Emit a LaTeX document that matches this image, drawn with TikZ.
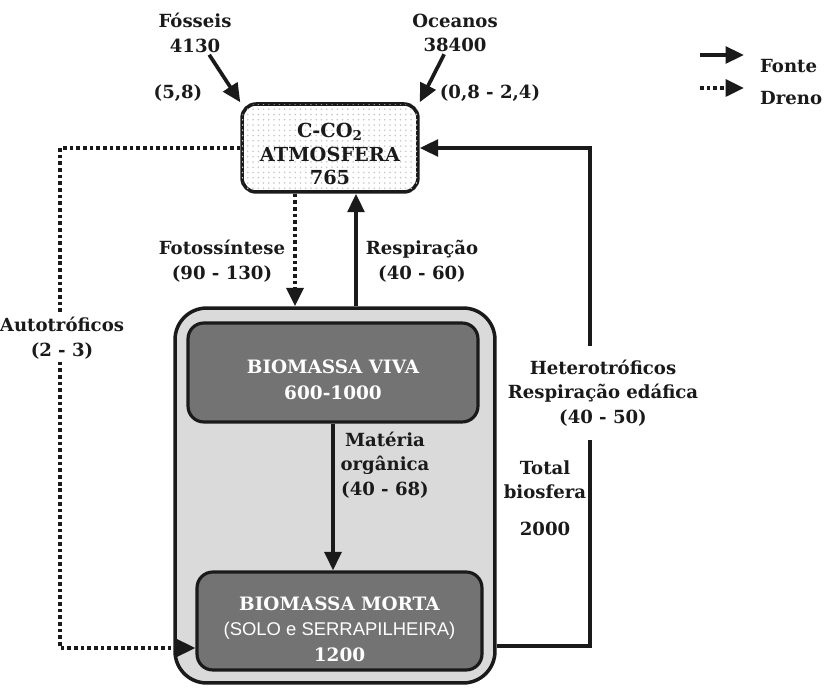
\documentclass[tikz,border=0pt]{standalone}
\usepackage{fontspec}
\setmainfont{DejaVu Serif}
\newfontfamily\sansfont{Liberation Sans}
\usetikzlibrary{arrows.meta,patterns}
\definecolor{ink}{HTML}{1A1A1A}
\definecolor{pool}{HTML}{737373}
\definecolor{shell}{HTML}{DADADA}

\begin{document}
\begin{tikzpicture}[x=0.02cm,y=-0.02cm,text=ink,>={Triangle[length=10.5pt,width=9.5pt]},
  font=\bfseries\fontsize{10.3}{14}\selectfont,
  src/.style={->,draw=ink,line width=2.1pt},
  drn/.style={->,draw=ink,line width=2.3pt,dash pattern=on 2.1pt off 1.7pt},
  lbl/.style={align=center,inner sep=1pt},
  pooltext/.style={text=white,align=center,font=\bfseries\fontsize{10.5}{14.5}\selectfont}]
  \useasboundingbox (0,0) rectangle (826,689);

  % reservatorios
  \node[draw=ink,line width=2pt,rounded corners=18pt,fill=shell,
        minimum width=6.4cm,minimum height=7.5cm] (bio) at (335,495.5) {};
  \node[draw=ink,line width=1.8pt,rounded corners=9pt,fill=pool,
        minimum width=5.8cm,minimum height=1.98cm] (viva) at (333,372.5) {};
  \node[pooltext] (vivat) at (333,380) {BIOMASSA VIVA\\600-1000};
  \node[draw=ink,line width=1.8pt,rounded corners=9pt,fill=pool,
        minimum width=5.7cm,minimum height=1.96cm] (morta) at (339.5,621) {};
  \node[pooltext] (mortat) at (339.5,629)
    {BIOMASSA MORTA\\{\sansfont\mdseries (SOLO e SERRAPILHEIRA)}\\1200};
  \node[draw=ink,line width=2pt,rounded corners=8pt,fill=white,
        postaction={pattern=dots,pattern color=gray!45},
        minimum width=3.52cm,minimum height=1.76cm] (atm) at (330,148) {};
  \node[align=center,font=\bfseries\fontsize{11}{13.5}\selectfont]
    (atmt) at (330,154) {C-CO\textsubscript{2}\\ATMOSFERA\\765};

  % fontes externas
  \node[lbl] (fos) at (195,33) {Fósseis\\4130};
  \node[lbl] (oce) at (455,33) {Oceanos\\38400};
  \node[lbl] (fosv) at (178,93) {(5,8)};
  \node[lbl] (ocev) at (490,93) {(0,8 - 2,4)};
  \draw[src] (fos) -- (atm.north west);
  \draw[src] (oce) -- (atm.north east);

  % trocas atmosfera - biosfera
  \coordinate (fx) at (295,0);
  \coordinate (rx) at (356,0);
  \draw[drn] (atm.south -| fx) -- (bio.north -| fx);
  \draw[src] (bio.north -| rx) -- (atm.south -| rx);
  \node[lbl] (fot) at (222,261) {Fotossíntese\\(90 - 130)};
  \node[lbl] (res) at (422,261) {Respiração\\(40 - 60)};

  \draw[src] (viva.south) -- (viva.south |- morta.north);
  \node[lbl] (mat) at (385,465) {Matéria\\orgânica\\(40 - 68)};
  \node[lbl] (tot) at (545,498) {Total\\biosfera\\[7pt]2000};

  % lacos laterais
  \coordinate (al) at (60,648);
  \coordinate (hr) at (590,646);
  \draw[drn] (atm.west) -| (al) -- (morta.west |- al);
  \draw[src] (bio.east |- hr) -- (hr) |- (atm.east);
  \node[lbl,fill=white] (aut) at (62,338) {Autotróficos\\(2 - 3)};
  \node[lbl,fill=white,inner ysep=8pt] (het) at (603,393)
    {Heterotróficos\\Respiração edáfica\\(40 - 50)};

  % legenda
  \coordinate (lf) at (700,55);
  \coordinate (ld) at (700,88);
  \draw[src] (lf) -- +(44,0);
  \draw[drn] (ld) -- +(44,0);
  \node[lbl,anchor=west] (fon) at (758,66) {Fonte};
  \node[lbl,anchor=west] (dre) at (758,98) {Dreno};
\end{tikzpicture}
\end{document}
